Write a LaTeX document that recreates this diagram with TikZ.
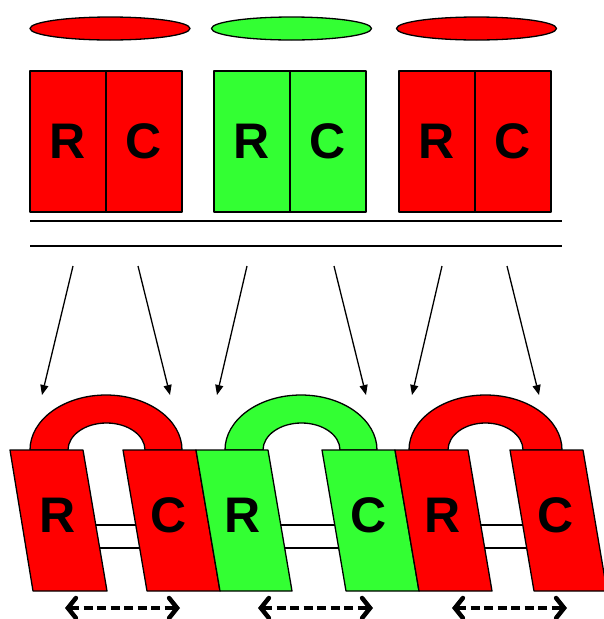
\documentclass[tikz,border=0pt]{standalone}
\usepackage{fontspec}
\setmainfont{Liberation Sans}
\usetikzlibrary{shapes.geometric,arrows.meta}
\definecolor{cred}{RGB}{255,0,0}
\definecolor{cgreen}{RGB}{51,255,51}
\newcommand{\bigRC}{\fontsize{50}{50}\selectfont\bfseries}
\begin{document}
\begin{tikzpicture}[x=1pt,y=-1pt,
 outl/.style={draw=black,line width=1.3pt,line join=round},
 half/.style={outl,rectangle,minimum width=76pt,minimum height=141pt,inner sep=0pt,font=\bigRC},
 disc/.style={outl,ellipse,minimum width=160pt,minimum height=23pt,inner sep=0pt},
 lab/.style={font=\bigRC,inner sep=0pt},
 feed/.style={line width=1.3pt,-{Triangle[length=10pt,width=8pt]}},
 shiftarrow/.style={line width=4.5pt,dash pattern=on 9pt off 4.5pt,{Straight Barb[length=8pt,width=20pt,line cap=round]}-{Straight Barb[length=8pt,width=20pt,line cap=round]}},
 rail/.style={line width=1.2pt}]
\useasboundingbox (0,0) rectangle (604,619);

% top discs
\node[disc,fill=cred]   (e1) at (110,28.5) {};
\node[disc,fill=cgreen] (e2) at (291.5,28.5) {};
\node[disc,fill=cred]   (e3) at (476.5,28.5) {};

% top boxes
\node[half,fill=cred]   (tR1) at (68,141.5) {R};
\node[half,fill=cred]   (tC1) at (144,141.5) {C};
\node[half,fill=cgreen] (tR2) at (252,141.5) {R};
\node[half,fill=cgreen] (tC2) at (328,141.5) {C};
\node[half,fill=cred]   (tR3) at (437,141.5) {R};
\node[half,fill=cred]   (tC3) at (513,141.5) {C};

% rails
\coordinate (l1a) at (30,221); \coordinate (l1b) at (562,221);
\coordinate (l2a) at (30,246); \coordinate (l2b) at (562,246);
\draw[rail] (l1a) -- (l1b);
\draw[rail] (l2a) -- (l2b);

% arrows down
\coordinate (s1) at (73,266);  \coordinate (t1) at (42,395);
\coordinate (s2) at (138,266); \coordinate (t2) at (170,395);
\coordinate (s3) at (247,266); \coordinate (t3) at (217,395);
\coordinate (s4) at (334,266); \coordinate (t4) at (366,395);
\coordinate (s5) at (442,266); \coordinate (t5) at (412,395);
\coordinate (s6) at (507,266); \coordinate (t6) at (539,395);
\foreach \i in {1,...,6} \draw[feed] (s\i) -- (t\i);

% group 1
\path[outl,fill=cred] (30,450) arc[start angle=180,end angle=360,x radius=76,y radius=55]
  -- (145,450) arc[start angle=0,end angle=-180,x radius=38.5,y radius=27] -- cycle;
\coordinate (g1a) at (60,525); \coordinate (g1b) at (165,525);
\coordinate (g1c) at (60,548); \coordinate (g1d) at (165,548);
\draw[rail] (g1a) -- (g1b); \draw[rail] (g1c) -- (g1d);
\path[outl,fill=cred] (10,450) -- (83,450) -- (107,591) -- (33,591) -- cycle;
\node[lab] (bR1) at (58,515) {R};
\path[outl,fill=cred] (123,450) -- (196,450) -- (220,591) -- (147,591) -- cycle;
\node[lab] (bC1) at (169,515) {C};

% group 2
\path[outl,fill=cgreen] (225,450) arc[start angle=180,end angle=360,x radius=76,y radius=55]
  -- (340,450) arc[start angle=0,end angle=-180,x radius=38.5,y radius=27] -- cycle;
\coordinate (g2a) at (250,525); \coordinate (g2b) at (365,525);
\coordinate (g2c) at (250,548); \coordinate (g2d) at (365,548);
\draw[rail] (g2a) -- (g2b); \draw[rail] (g2c) -- (g2d);
\path[outl,fill=cgreen] (196,450) -- (268,450) -- (292,591) -- (220,591) -- cycle;
\node[lab] (bR2) at (243,515) {R};
\path[outl,fill=cgreen] (322,450) -- (395,450) -- (419,591) -- (346,591) -- cycle;
\node[lab] (bC2) at (369,515) {C};

% group 3
\path[outl,fill=cred] (409,450) arc[start angle=180,end angle=360,x radius=76.5,y radius=55]
  -- (523,450) arc[start angle=0,end angle=-180,x radius=37.5,y radius=27] -- cycle;
\coordinate (g3a) at (450,525); \coordinate (g3b) at (550,525);
\coordinate (g3c) at (450,548); \coordinate (g3d) at (550,548);
\draw[rail] (g3a) -- (g3b); \draw[rail] (g3c) -- (g3d);
\path[outl,fill=cred] (395,450) -- (468,450) -- (492,591) -- (419,591) -- cycle;
\node[lab] (bR3) at (443,515) {R};
\path[outl,fill=cred] (510,450) -- (583,450) -- (607,591) -- (534,591) -- cycle;
\node[lab] (bC3) at (556,515) {C};

% shift arrows
\coordinate (d1l) at (65,608);  \coordinate (d1r) at (180,608);
\coordinate (d2l) at (258,608); \coordinate (d2r) at (373,608);
\coordinate (d3l) at (452,608); \coordinate (d3r) at (567,608);
\draw[shiftarrow] (d1l) -- (d1r);
\draw[shiftarrow] (d2l) -- (d2r);
\draw[shiftarrow] (d3l) -- (d3r);
\end{tikzpicture}
\end{document}
